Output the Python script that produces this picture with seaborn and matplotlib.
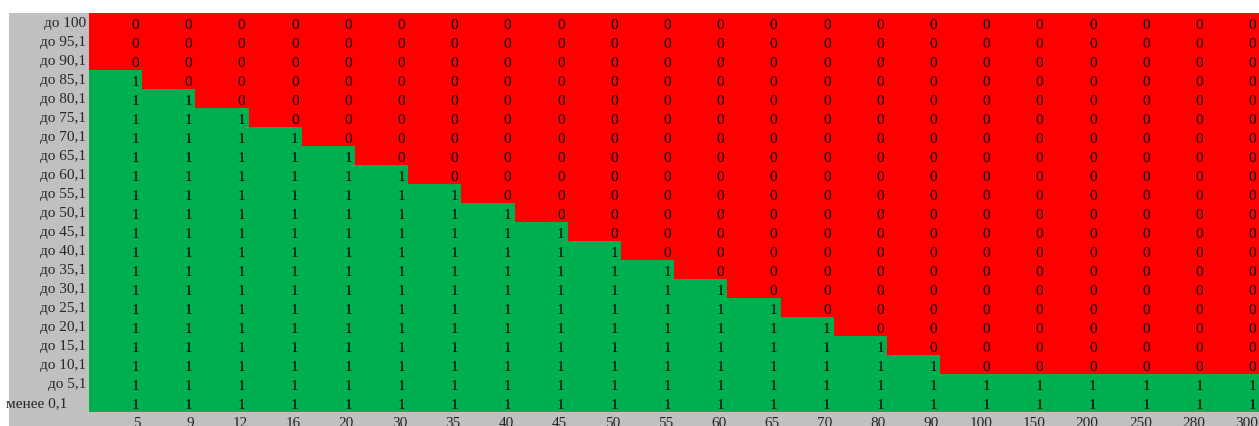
import numpy as np
import pandas as pd
import matplotlib
matplotlib.use("Agg")
import matplotlib.pyplot as plt
from matplotlib.colors import ListedColormap
from matplotlib.patches import Rectangle
import seaborn as sns

row_labels = ["до 100", "до 95,1", "до 90,1", "до 85,1", "до 80,1", "до 75,1",
              "до 70,1", "до 65,1", "до 60,1", "до 55,1", "до 50,1", "до 45,1",
              "до 40,1", "до 35,1", "до 30,1", "до 25,1", "до 20,1", "до 15,1",
              "до 10,1", "до 5,1", "менее 0,1"]
col_labels = ["5", "9", "12", "16", "20", "30", "35", "40", "45", "50", "55",
              "60", "65", "70", "80", "90", "100", "150", "200", "250", "280", "300"]

values = [
    [0, 0, 0, 0, 0, 0, 0, 0, 0, 0, 0, 0, 0, 0, 0, 0, 0, 0, 0, 0, 0, 0],
    [0, 0, 0, 0, 0, 0, 0, 0, 0, 0, 0, 0, 0, 0, 0, 0, 0, 0, 0, 0, 0, 0],
    [0, 0, 0, 0, 0, 0, 0, 0, 0, 0, 0, 0, 0, 0, 0, 0, 0, 0, 0, 0, 0, 0],
    [1, 0, 0, 0, 0, 0, 0, 0, 0, 0, 0, 0, 0, 0, 0, 0, 0, 0, 0, 0, 0, 0],
    [1, 1, 0, 0, 0, 0, 0, 0, 0, 0, 0, 0, 0, 0, 0, 0, 0, 0, 0, 0, 0, 0],
    [1, 1, 1, 0, 0, 0, 0, 0, 0, 0, 0, 0, 0, 0, 0, 0, 0, 0, 0, 0, 0, 0],
    [1, 1, 1, 1, 0, 0, 0, 0, 0, 0, 0, 0, 0, 0, 0, 0, 0, 0, 0, 0, 0, 0],
    [1, 1, 1, 1, 1, 0, 0, 0, 0, 0, 0, 0, 0, 0, 0, 0, 0, 0, 0, 0, 0, 0],
    [1, 1, 1, 1, 1, 1, 0, 0, 0, 0, 0, 0, 0, 0, 0, 0, 0, 0, 0, 0, 0, 0],
    [1, 1, 1, 1, 1, 1, 1, 0, 0, 0, 0, 0, 0, 0, 0, 0, 0, 0, 0, 0, 0, 0],
    [1, 1, 1, 1, 1, 1, 1, 1, 0, 0, 0, 0, 0, 0, 0, 0, 0, 0, 0, 0, 0, 0],
    [1, 1, 1, 1, 1, 1, 1, 1, 1, 0, 0, 0, 0, 0, 0, 0, 0, 0, 0, 0, 0, 0],
    [1, 1, 1, 1, 1, 1, 1, 1, 1, 1, 0, 0, 0, 0, 0, 0, 0, 0, 0, 0, 0, 0],
    [1, 1, 1, 1, 1, 1, 1, 1, 1, 1, 1, 0, 0, 0, 0, 0, 0, 0, 0, 0, 0, 0],
    [1, 1, 1, 1, 1, 1, 1, 1, 1, 1, 1, 1, 0, 0, 0, 0, 0, 0, 0, 0, 0, 0],
    [1, 1, 1, 1, 1, 1, 1, 1, 1, 1, 1, 1, 1, 0, 0, 0, 0, 0, 0, 0, 0, 0],
    [1, 1, 1, 1, 1, 1, 1, 1, 1, 1, 1, 1, 1, 1, 0, 0, 0, 0, 0, 0, 0, 0],
    [1, 1, 1, 1, 1, 1, 1, 1, 1, 1, 1, 1, 1, 1, 1, 0, 0, 0, 0, 0, 0, 0],
    [1, 1, 1, 1, 1, 1, 1, 1, 1, 1, 1, 1, 1, 1, 1, 1, 0, 0, 0, 0, 0, 0],
    [1, 1, 1, 1, 1, 1, 1, 1, 1, 1, 1, 1, 1, 1, 1, 1, 1, 1, 1, 1, 1, 1],
    [1, 1, 1, 1, 1, 1, 1, 1, 1, 1, 1, 1, 1, 1, 1, 1, 1, 1, 1, 1, 1, 1],
]

RED = "#FF0000"
GREEN = "#00B050"
GRAY = "#C0C0C0"

sns.set_style("white")
plt.rcParams["font.family"] = ["Liberation Serif", "DejaVu Serif"]

W, H = 1259, 427
fig = plt.figure(figsize=(W / 100, H / 100), dpi=100)
fig.patch.set_facecolor("white")
fig.patches.append(Rectangle((9 / W, 0), (W - 9) / W, (H - 14) / H,
                             transform=fig.transFigure, facecolor=GRAY,
                             edgecolor="none", zorder=-10))

cell_w = 53.2
ax = fig.add_axes([89 / W, 14 / H, len(col_labels) * cell_w / W, 399 / H])
ax.set_zorder(5)

df = pd.DataFrame(values, index=row_labels, columns=col_labels)
sns.heatmap(df, cmap=ListedColormap([RED, GREEN]), vmin=0, vmax=1, cbar=False,
            annot=True, fmt="d",
            annot_kws={"color": "black", "fontsize": 11, "ha": "right",
                       "va": "center_baseline"},
            ax=ax)
for t in ax.texts:
    x, y = t.get_position()
    t.set_position((x + 0.44, y + 0.05))

ax.set_xticks(np.arange(len(col_labels)) + 0.98)
ax.set_xticklabels(col_labels, rotation=0, ha="right", fontsize=11)
ylabs = list(row_labels)
ylabs[-1] = ylabs[-1] + "     "
ax.set_yticks(np.arange(len(row_labels)) + 0.5)
ax.set_yticklabels(ylabs, rotation=0, fontsize=11)
ax.tick_params(axis="both", length=0)
ax.tick_params(axis="y", pad=2)
ax.tick_params(axis="x", pad=3)
ax.set_xlabel("")
ax.set_ylabel("")

fig.savefig("out.png", dpi=100)
